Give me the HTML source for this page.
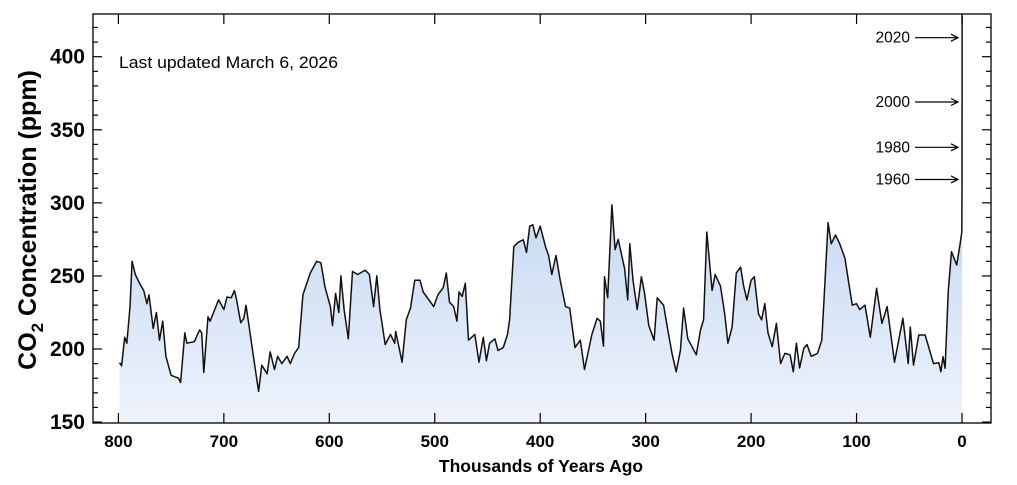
<!DOCTYPE html>
<html><head><meta charset="utf-8"><style>
html,body{margin:0;padding:0;background:#fff;}
svg{display:block;font-family:"Liberation Sans",Arial,sans-serif;}
</style></head><body>
<svg id="chart" width="1017" height="485" viewBox="0 0 1017 485">
<defs><linearGradient id="fillg" x1="0" y1="0" x2="0" y2="1">
<stop offset="0" stop-color="#a5c3eb"/><stop offset="1" stop-color="#eef3fb"/></linearGradient></defs>
<g id="plot"></g>
<rect x="93" y="14" width="898" height="409" fill="none" stroke="#000" stroke-width="1.3"/>
<text x="119" y="68" font-size="16.5" textLength="219" lengthAdjust="spacingAndGlyphs">Last updated March 6, 2026</text>
<text transform="translate(36,220) rotate(-90)" text-anchor="middle" font-size="25" font-weight="bold">CO<tspan font-size="17" dy="7">2</tspan><tspan dy="-7"> Concentration (ppm)</tspan></text>
<text x="541" y="472" text-anchor="middle" font-size="17.5" font-weight="bold">Thousands of Years Ago</text>
</svg>
<script>
const ages=[799,797,794,792,790,789,787,784,780,776,773,771,767,764,761,758,755,750,743,741,737,735,728,723,721,719,715,713,705,700,697,693,690,688,684,681,679,676,672,667,664,659,656,652,649,645,640,637,633,629,625,618,612,608,604,599,597,594,591,589,586,582,578,573,566,562,558,555,552,547,542,538,537,531,527,523,519,514,511,501,497,492,489,486,482,479,477,474,471,468,462,458,454,451,448,443,440,435,431,429,425,421,416,413,410,407,404,400,395,392,389,385,381,376,372,367,362,358,351,346,343,340,339,336,332,329,326,320,317,315,312,308,304,301,297,292,289,283,279,275,271,267,264,260,252,248,245,242,237,234,229,225,222,218,214,210,207,204,200,197,193,190,187,184,180,176,172,168,163,160,157,154,150,147,143,137,133,130,127,124,120,116,111,108,104,100,97,92,87,81,76,71,64,56,51,49,46,41,35,27,22,20,18,16,13,10,5,2,0.3,0.15,0.05,0.0,-0.03,-0.05,-0.076];
const ppm=[190.6,188.6,208,204,220,229,260,251,245,240,231,237,214,225,206,219,195,182,180,177,211,204,205,213,211,184,222,219,233.6,227,235.6,235,240,234,218,221,230,215,195,171,189,183,198,186,195,190,195,190,197,201,237,252,260,259,242,229,216,238,225,250,227,207,253,251,254,251,229,250,227,203,210,204,212,191,220,228,247,247,239,229,237,242,252,232,229,219,239,236,245,206,210,191,208,192,204,207,199,201,210,220,270,273,274.7,266,284,285,276,284,270,264,251,264,247,229,228,201,206,186,210,221,219,202,249.5,235,298.6,268,275,255,233.6,272,247,227,249.5,238,216,206,235,230,213,197,184.5,199,228,207,196,213,220,280,240,251,243,224,204,215,252,256,243,233.6,247,249.5,224,220,231,211,201.6,217.5,190,197,196,184.5,204,187,200.5,203,195,197,206,245,286.5,272,278,272,262,248,230,231,227,230,208,241.5,217.5,229,191,221,190,215,189,209.6,209.6,190,190.6,184.5,194.7,186.8,240,266.6,257.5,271,279.5,280,290,311,338,370,428];
const yTicks=[150,200,250,300,350,400];
const xTicks=[800,700,600,500,400,300,200,100,0];
const markYears=["2020","2000","1980","1960"];
const markPpm=[413,369,338,316];
const NS="http://www.w3.org/2000/svg";
const L=93,R=991,T=14,B=423;
function xs(a){return 962-a*1.0545;}
function ys(v){return 349-(v-200)*1.4615;}
const g=document.getElementById('plot');
function mk(tag,at){const e=document.createElementNS(NS,tag);for(const k in at)e.setAttribute(k,at[k]);g.appendChild(e);return e;}
let d='';ages.forEach((a,i)=>{d+=(i?'L':'M')+xs(a).toFixed(1)+','+ys(ppm[i]).toFixed(1);});
const area=mk('path',{d:d+'L'+xs(ages[ages.length-1]).toFixed(1)+','+B+'L'+xs(ages[0]).toFixed(1)+','+B+'Z',fill:'url(#fillg)'});


const line=mk('path',{d:d,fill:'none',stroke:'#111','stroke-width':1.5,'stroke-linejoin':'round'});


for(let v=150;v<=420;v+=10){const y=ys(v);if(y<T)continue;const major=v%50===0;
 mk('line',{x1:L,x2:L+(major?9:5),y1:y,y2:y,stroke:'#000','stroke-width':1.2});
 mk('line',{x1:R,x2:R-(major?9:5),y1:y,y2:y,stroke:'#000','stroke-width':1.2});}
yTicks.forEach(v=>{const t=mk('text',{x:85,y:ys(v)+7,'text-anchor':'end','font-size':21,'font-weight':'bold'});t.textContent=v;
 
 });
xTicks.forEach(v=>{const x=xs(v);mk('line',{x1:x,x2:x,y1:B,y2:B-10,stroke:'#000','stroke-width':1.2});
 mk('line',{x1:x,x2:x,y1:T,y2:T+10,stroke:'#000','stroke-width':1.2});
 const t=mk('text',{x:x,y:447,'text-anchor':'middle','font-size':17,'font-weight':'bold'});t.textContent=v;
 
 });
markYears.forEach((yr,i)=>{const y=ys(markPpm[i]);
 const t=mk('text',{x:910,y:y+5,'text-anchor':'end','font-size':15.5});t.textContent=yr;
 
 
 const a=mk('path',{d:`M915,${y}L958,${y}M951,${y-3.5}L958,${y}L951,${y+3.5}`,stroke:'#000','stroke-width':1.2,fill:'none'});
 
 });
</script>
</body></html>
